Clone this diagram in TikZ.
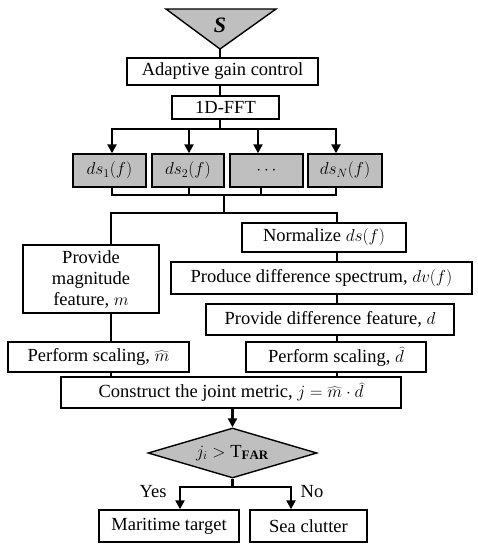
\documentclass[tikz,border=0pt]{standalone}
\usepackage{fontspec}
\setmainfont{Liberation Serif}
\usetikzlibrary{shapes.geometric,arrows.meta}
\definecolor{boxgray}{RGB}{191,191,191}
\begin{document}
\begin{tikzpicture}[x=1pt,y=-1pt,
  box/.style={draw,line width=1.4pt,rectangle,inner sep=0pt,font=\fontsize{18.5}{21}\selectfont,align=center},
  gbox/.style={box,fill=boxgray},
  conn/.style={line width=2.6pt},
  arr/.style={conn,-{Triangle[length=9pt,width=9pt]}},
  lbl/.style={font=\fontsize{18.5}{21}\selectfont,inner sep=0pt}]
\useasboundingbox (0,0) rectangle (478,550);
% source triangle
\draw[line width=1.4pt,fill=boxgray] (166,9) -- (276,9) -- (220,49) -- cycle;
\coordinate (apex) at (220,49);
\node[lbl,font=\fontsize{22}{24}\selectfont] (S) at (220,25) {\textbf{\textit{S}}};
% top boxes
\node[box,minimum width=191pt,minimum height=27pt] (agc) at (222.5,71.5) {Adaptive gain control};
\node[box,minimum width=107pt,minimum height=23pt] (fft) at (225.5,107.5) {1D-FFT};
% ds boxes
\node[gbox,minimum width=73pt,minimum height=33pt] (ds1) at (109.5,170.5) {$ds_1(f)$};
\node[gbox,minimum width=72pt,minimum height=33pt] (ds2) at (188,170.5) {$ds_2(f)$};
\node[gbox,minimum width=73pt,minimum height=33pt] (dsd) at (266.5,170.5) {$\cdots$};
\node[gbox,minimum width=74pt,minimum height=33pt] (dsN) at (345,170.5) {$ds_N(f)$};
% right chain
\node[box,minimum width=164pt,minimum height=29pt] (norm) at (324,237.5) {Normalize $ds(f)$};
\node[box,minimum width=301pt,minimum height=32pt] (prod) at (321.5,278) {Produce difference spectrum, $dv(f)$};
\node[box,minimum width=248pt,minimum height=31pt] (pdiff) at (330,319.5) {Provide difference feature, $d$};
\node[box,minimum width=180pt,minimum height=30pt] (psd) at (336,357) {Perform scaling, $\widehat{d}$};
% left chain
\node[box,minimum width=136pt,minimum height=68pt] (pmag) at (91,279) {Provide\\magnitude\\feature, $m$};
\node[box,minimum width=181pt,minimum height=30pt] (psm) at (98.5,357) {Perform scaling, $\widehat{m}$};
% joint
\node[box,minimum width=340pt,minimum height=31pt] (joint) at (231,392.5) {Construct the joint metric, $j=\widehat{m}\cdot\widehat{d}$};
\node[box,diamond,fill=boxgray,minimum width=169pt,minimum height=50pt,aspect=3.38] (dec) at (232.5,453) {$j_i>\mathrm{T}_{\mathbf{FAR}}$};
\node[box,minimum width=140pt,minimum height=32pt] (mt) at (169,526) {Maritime target};
\node[box,minimum width=117pt,minimum height=32pt] (sc) at (308.5,526) {Sea clutter};
\node[lbl] (yes) at (153,492) {Yes};
\node[lbl] (no) at (312,492) {No};
% coordinates
\coordinate (vx) at (220,0);
\coordinate (b0) at (220,129);
\coordinate (b1) at (112,129);
\coordinate (b2) at (189,129);
\coordinate (b3) at (258,129);
\coordinate (b4) at (336,129);
\coordinate (c1) at (112,195);
\coordinate (c2) at (189,195);
\coordinate (c3) at (261,195);
\coordinate (c4) at (336,195);
\coordinate (cm) at (224,195);
\coordinate (d1) at (111,213);
\coordinate (d2) at (337,213);
\coordinate (dm) at (224,213);
\coordinate (e1) at (180,487);
\coordinate (e2) at (291,487);
\coordinate (em) at (232.5,487);
% connectors
\draw[conn] (apex) -- (apex |- agc.north);
\draw[conn] (vx |- agc.south) -- (vx |- fft.north);
\draw[conn] (vx |- fft.south) -- (b0);
\draw[conn,line cap=rect] (b1) -- (b4);
\draw[arr] (b1) -- (b1 |- ds1.north);
\draw[arr] (b2) -- (b2 |- ds2.north);
\draw[arr] (b3) -- (b3 |- dsd.north);
\draw[arr] (b4) -- (b4 |- dsN.north);
\draw[conn] (c1 |- ds1.south) -- (c1);
\draw[conn] (c2 |- ds2.south) -- (c2);
\draw[conn] (c3 |- dsd.south) -- (c3);
\draw[conn] (c4 |- dsN.south) -- (c4);
\draw[conn,line cap=rect] (c1) -- (c4);
\draw[conn] (cm) -- (dm);
\draw[conn,line cap=rect] (d1) -- (d2);
\draw[conn] (d1) -- (d1 |- pmag.north);
\draw[conn] (d2) -- (d2 |- norm.north);
\draw[conn] (d2 |- norm.south) -- (d2 |- prod.north);
\draw[conn] (d2 |- prod.south) -- (d2 |- pdiff.north);
\draw[conn] (d2 |- pdiff.south) -- (d2 |- psd.north);
\draw[conn] (d2 |- psd.south) -- (d2 |- joint.north);
\draw[conn] (d1 |- pmag.south) -- (d1 |- psm.north);
\draw[conn] (d1 |- psm.south) -- (d1 |- joint.north);
\draw[arr] (joint.south -| dec.north) -- (dec.north);
\draw[conn] (dec.south) -- (em);
\draw[conn,line cap=rect] (e1) -- (e2);
\draw[arr] (e1) -- (e1 |- mt.north);
\draw[arr] (e2) -- (e2 |- sc.north);
\end{tikzpicture}
\end{document}
